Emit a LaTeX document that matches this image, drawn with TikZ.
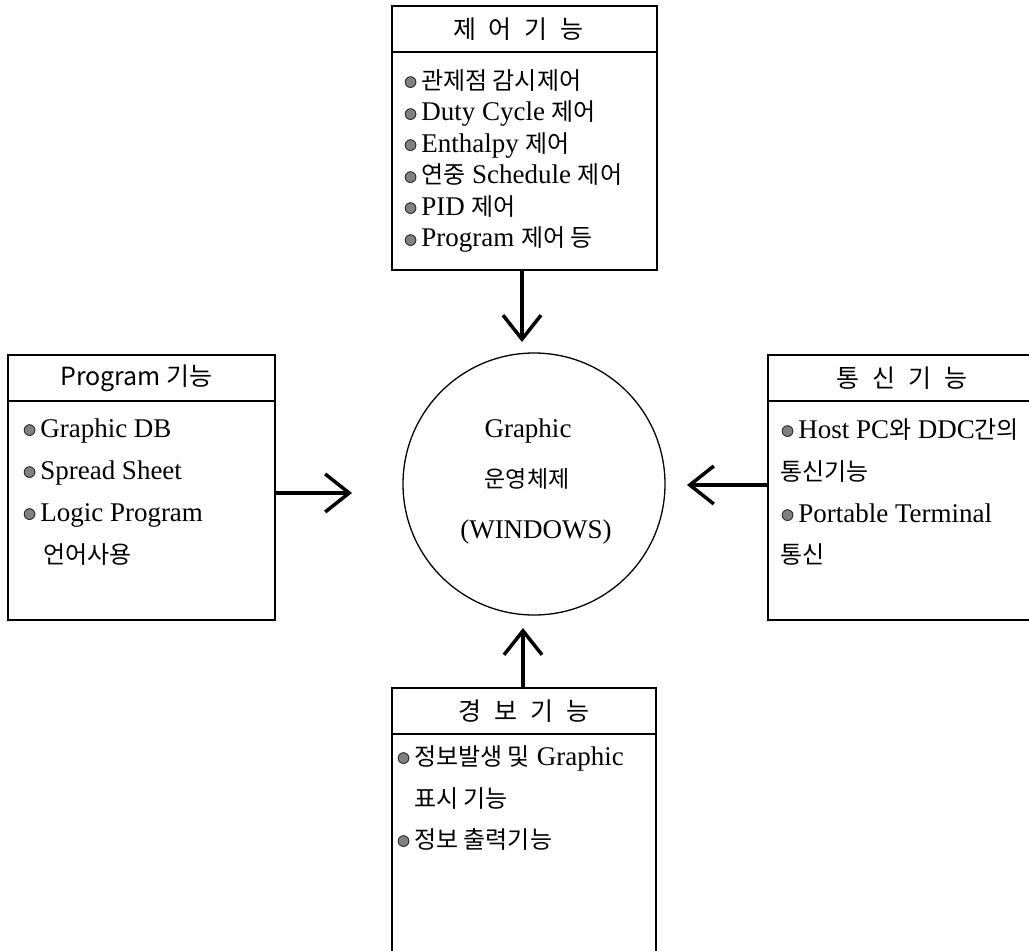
\documentclass[tikz,border=0pt]{standalone}
\usepackage{fontspec}
\setmainfont{Liberation Serif}
\newfontfamily\kr{Noto Sans CJK KR}
\newfontfamily\bulfont{DejaVu Sans}
\usetikzlibrary{arrows.meta}
\newcommand{\K}[1]{{\kr\fontsize{24}{24}\selectfont #1}}
\newcommand{\Ks}[1]{{\kr\fontsize{23}{23}\selectfont #1}}
\newcommand{\bul}{{\bulfont\fontsize{15}{15}\selectfont\raisebox{2.5pt}{\rlap{\textcolor{black!50}{●}}\textcolor{black!90}{○}}}\hspace{4pt}}
\begin{document}
\begin{tikzpicture}[x=1pt,y=-1pt,
  box/.style={draw, line width=1.3pt, inner sep=0pt, rectangle},
  head/.style={box, font=\kr\fontsize{25}{25}\selectfont},
  txt/.style={anchor=base west, inner sep=0pt, font=\fontsize{27}{27}\selectfont},
  ctxt/.style={anchor=base, inner sep=0pt, font=\fontsize{27}{27}\selectfont},
  arr/.style={line width=4pt, -{Straight Barb[length=24pt,width=38pt,line width=3.5pt]}}]
\useasboundingbox (0,0) rectangle (1029,951);
\clip (0,0) rectangle (1029,951);

% top box: control
\node[head, minimum width=265pt, minimum height=46pt] (ctrlh) at (524.5,29) {\hspace{-12pt}제\hspace{13pt}어\hspace{13pt}기\hspace{13pt}능};
\node[box, minimum width=265pt, minimum height=218pt] (ctrlb) at (524.5,161) {};
\node[txt] (c1) at (404,89) {\bul\K{관제점 감시제어}};
\node[txt] (c2) at (404,120.5) {\bul Duty Cycle \K{제어}};
\node[txt] (c3) at (404,152) {\bul Enthalpy \K{제어}};
\node[txt] (c4) at (404,183.5) {\bul\K{연중} Schedule \K{제어}};
\node[txt] (c5) at (404,215) {\bul PID \K{제어}};
\node[txt] (c6) at (404,246.5) {\bul Program \K{제어 등}};

% left box: program
\node[head, minimum width=267pt, minimum height=46pt] (progh) at (141.5,378) {\hspace{-10pt}Program 기능};
\node[box, minimum width=267pt, minimum height=219pt] (progb) at (141.5,510.5) {};
\node[txt] (p1) at (23,437) {\bul Graphic DB};
\node[txt] (p2) at (23,479) {\bul Spread Sheet};
\node[txt] (p3) at (23,521) {\bul Logic Program};
\node[txt] (p4) at (43,563) {\K{언어사용}};

% right box: communication
\node[head, minimum width=267pt, minimum height=46pt] (commh) at (901.5,378) {통\hspace{13pt}신\hspace{13pt}기\hspace{13pt}능};
\node[box, minimum width=267pt, minimum height=219pt] (commb) at (901.5,510.5) {};
\node[txt] (m1) at (781,438) {\bul Host PC\K{와} DDC\K{간의}};
\node[txt] (m2) at (780,480) {\K{통신기능}};
\node[txt] (m3) at (781,522) {\bul Portable Terminal};
\node[txt] (m4) at (780,563) {\K{통신}};

% bottom box: alarm
\node[head, minimum width=264pt, minimum height=46pt] (alarmh) at (524,711) {경\hspace{13pt}보\hspace{13pt}기\hspace{13pt}능};
\node[box, minimum width=264pt, minimum height=240pt] (alarmb) at (524,854) {};
\node[txt] (a1) at (397,765) {\bul\K{정보발생 및} Graphic};
\node[txt] (a2) at (414,807) {\K{표시 기능}};
\node[txt] (a3) at (397,848) {\bul\K{정보 출력기능}};

% centre circle
\node[draw, circle, line width=1.3pt, minimum size=262pt, inner sep=0pt] (os) at (534,484) {};
\node[ctxt] (os1) at (528,437) {Graphic};
\node[ctxt] (os2) at (527,487) {\Ks{운영체제}};
\node[ctxt] (os3) at (536,538) {(WINDOWS)};

% arrows
\coordinate (ta) at (522,342);
\coordinate (la) at (352,493);
\coordinate (ra) at (687,485);
\coordinate (ba) at (523,628);
\draw[arr] (ctrlb.south -| ta) -- (ta);
\draw[arr] (progb.east |- la) -- (la);
\draw[arr] (commb.west |- ra) -- (ra);
\draw[arr] (alarmh.north -| ba) -- (ba);
\end{tikzpicture}
\end{document}
